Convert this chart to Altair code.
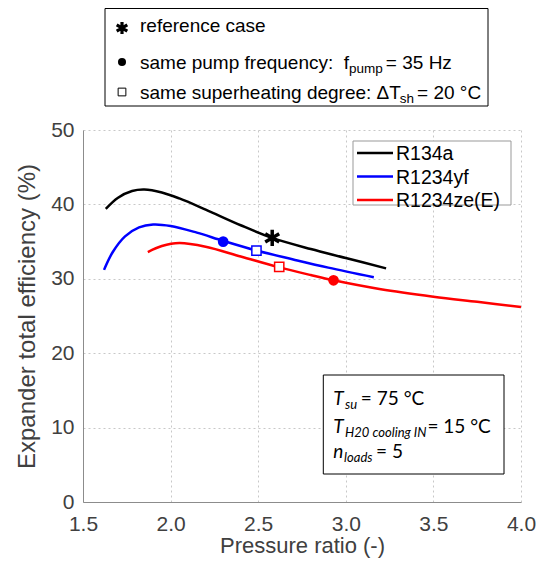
import altair as alt
import pandas as pd

# ---------------- data ----------------
series_names = ["R134a", "R1234yf", "R1234ze(E)"]
series_colors = ["#000000", "#0000ff", "#ff0000"]

r134a_x = [1.63, 1.70, 1.78, 1.85, 1.95, 2.05, 2.20, 2.40, 2.58, 2.80, 3.00, 3.23]
r134a_y = [39.4, 40.9, 41.8, 42.0, 41.6, 40.8, 39.3, 37.2, 35.5, 34.0, 32.8, 31.4]
r1234yf_x = [1.62, 1.67, 1.74, 1.82, 1.90, 2.00, 2.15, 2.30, 2.49, 2.70, 2.90, 3.16]
r1234yf_y = [31.2, 33.6, 35.7, 36.9, 37.3, 37.1, 36.2, 35.1, 33.8, 32.6, 31.5, 30.2]
r1234ze_x = [1.87, 1.95, 2.05, 2.20, 2.40, 2.61, 2.80, 2.93, 3.20, 3.50, 3.75, 4.00]
r1234ze_y = [33.6, 34.4, 34.8, 34.3, 33.0, 31.6, 30.5, 29.8, 28.6, 27.6, 26.9, 26.2]

ref_x, ref_y = [2.58], [35.5]
pump_series, pump_x, pump_y = ["R1234yf", "R1234ze(E)"], [2.30, 2.93], [35.0, 29.8]
sh_series, sh_x, sh_y = ["R1234yf", "R1234ze(E)"], [2.49, 2.62], [33.8, 31.6]

x_ticks = [1.5, 2.0, 2.5, 3.0, 3.5, 4.0]
y_ticks = [0, 10, 20, 30, 40, 50]

rows = []
for name, xs, ys in [("R134a", r134a_x, r134a_y), ("R1234yf", r1234yf_x, r1234yf_y),
                     ("R1234ze(E)", r1234ze_x, r1234ze_y)]:
    for i, (a, b) in enumerate(zip(xs, ys)):
        rows.append({"series": name, "x": a, "y": b, "o": i})
lines_df = pd.DataFrame(rows)

W, H = 438, 372
FONT = "Liberation Sans"
BOXFONT = "Lato"

xs = alt.Scale(domain=[1.5, 4.0], nice=False, zero=False)
ys = alt.Scale(domain=[0, 50], nice=False)
cs = alt.Scale(domain=series_names, range=series_colors)

xenc = alt.X("x:Q", scale=xs, title="Pressure ratio (-)",
             axis=alt.Axis(values=x_ticks, format=".1f", labelFlush=False))
yenc = alt.Y("y:Q", scale=ys, title="Expander total efficiency (%)",
             axis=alt.Axis(values=y_ticks, format="d", labelFlush=False))

lines = alt.Chart(lines_df).mark_line(strokeWidth=2.5, interpolate="catmull-rom").encode(
    x=xenc, y=yenc, color=alt.Color("series:N", scale=cs, legend=None),
    detail="series:N", order="o:Q")

STAR = "M0,-1L0,1M-0.866,-0.5L0.866,0.5M-0.866,0.5L0.866,-0.5"

star = alt.Chart(pd.DataFrame({"x": ref_x, "y": ref_y})).mark_point(
    shape=STAR, size=260, strokeWidth=3.5, color="black", filled=False, opacity=1).encode(x="x:Q", y="y:Q")
dots = alt.Chart(pd.DataFrame({"series": pump_series, "x": pump_x, "y": pump_y})).mark_point(
    shape="circle", size=115, filled=True, opacity=1).encode(
    x="x:Q", y="y:Q", color=alt.Color("series:N", scale=cs, legend=None))
squares = alt.Chart(pd.DataFrame({"series": sh_series, "x": sh_x, "y": sh_y})).mark_point(
    shape="square", size=85, filled=False, fill="white", fillOpacity=1, strokeWidth=1.5, opacity=1).encode(
    x="x:Q", y="y:Q", stroke=alt.Stroke("series:N", scale=cs, legend=None))

# -------------- annotation helpers --------------
AW = {" ": 278, "\u00a0": 278, "a": 556, "b": 556, "c": 500, "d": 556, "e": 556, "f": 278, "g": 556,
      "h": 556, "i": 222, "l": 222, "m": 833, "n": 556, "o": 556, "p": 556, "q": 556, "r": 333,
      "s": 500, "t": 278, "u": 556, "y": 500, "z": 500, "H": 722, "I": 278, "N": 722, "T": 611,
      "C": 722, "=": 584, ":": 278, "°": 400, "Δ": 612}


def tw(s, size, k=1.0):
    return sum(AW.get(c, 556) for c in s) / 1000.0 * size * k


def one():
    return pd.DataFrame({"k": [0]})


def txt(s, x, y, size, font=FONT, style="normal", baseline="alphabetic", color="black"):
    return alt.Chart(pd.DataFrame({"t": [s]})).mark_text(
        align="left", baseline=baseline, fontSize=size, font=font, fontStyle=style, color=color
    ).encode(x=alt.value(x), y=alt.value(y), text="t:N")


def box(x1, x2, y1, y2, stroke="black"):
    return alt.Chart(one()).mark_rect(fill="white", stroke=stroke, strokeWidth=1).encode(
        x=alt.value(x1), x2=alt.value(x2), y=alt.value(y1), y2=alt.value(y2))


layers = [lines, star, dots, squares]

# legend inside plot (top right)
layers.append(box(270, 428, 11, 75, stroke="#999999"))
for i, (name, col) in enumerate(zip(series_names, series_colors)):
    yy = 23 + i * 23.5
    layers.append(alt.Chart(one()).mark_rule(color=col, strokeWidth=2.5).encode(
        x=alt.value(274), x2=alt.value(310), y=alt.value(yy)))
    layers.append(txt(name, 313, yy + 1, 19.5, baseline="middle"))

# top marker-description box
TS, SS = 19, 13.5
layers.append(box(22, 405, -121.5, -24))
r1, r2, r3 = -104, -68, -38
layers.append(alt.Chart(one()).mark_point(shape=STAR, size=150, strokeWidth=3.2, color="black",
                                          filled=False, opacity=1).encode(x=alt.value(39), y=alt.value(r1 + 2)))
layers.append(alt.Chart(one()).mark_point(shape="circle", size=65, filled=True, color="black",
                                          opacity=1).encode(x=alt.value(39), y=alt.value(r2)))
layers.append(alt.Chart(one()).mark_point(shape="square", size=60, filled=False, color="black",
                                          strokeWidth=1, opacity=1).encode(x=alt.value(39), y=alt.value(r3)))
tx = 57
layers.append(txt("reference case", tx, r1 + 6, TS))
s1 = "same pump frequency: \u00a0f"
layers.append(txt(s1, tx, r2 + 7, TS))
x2 = tx + tw(s1, TS)
layers.append(txt("pump", x2, r2 + 11, SS))
x3 = x2 + tw("pump", SS) + 3
layers.append(txt("= 35 Hz", x3, r2 + 7, TS))
s3 = "same superheating degree: ΔT"
layers.append(txt(s3, tx, r3 + 7, TS))
x2 = tx + tw(s3, TS)
layers.append(txt("sh", x2, r3 + 11, SS))
x3 = x2 + tw("sh", SS) + 3
layers.append(txt("= 20 °C", x3, r3 + 7, TS))

# bottom-right condition box
BS, BSS, K = 19, 13, 0.93
sub2 = "H20 cooling IN"
w2 = tw("T", BS, K) + 1 + tw(sub2, BSS, K) + 3 + tw("= 15 °C", BS, K)
bx0 = 404 - w2
layers.append(box(bx0 - 10, 421, 245, 344))
for base, main, sub, rest in [(275, "T", "su", "= 75 °C"), (303, "T", sub2, "= 15 °C"),
                              (328, "n", "loads", "= 5")]:
    layers.append(txt(main, bx0, base, BS, font=BOXFONT, style="italic"))
    sx = bx0 + tw(main, BS, K) + 1
    layers.append(txt(sub, sx, base + 4, BSS, font=BOXFONT, style="italic"))
    rx = sx + tw(sub, BSS, K) + 3
    layers.append(txt(rest, rx, base, BS, font=BOXFONT))

chart = alt.layer(*layers).properties(
    width=W, height=H,
    autosize=alt.AutoSizeParams(type="none"),
    padding={"left": 75, "top": 122, "right": 16, "bottom": 58},
).configure_view(stroke=None).configure_axis(
    grid=True, gridColor="#c8c8c8", gridDash=[2, 3], gridWidth=1,
    domainColor="#8c8c8c", domainWidth=1, ticks=False,
    labelFont=FONT, labelFontSize=21, labelColor="#404040",
    titleFont=FONT, titleFontSize=24, titleColor="#404040", titleFontWeight="normal",
).configure_axisX(titlePadding=1, labelPadding=11, titleFontSize=22).configure_axisY(
    titlePadding=11, labelPadding=9)

chart.save("out.html", embed_options={"renderer": "svg", "actions": False})
